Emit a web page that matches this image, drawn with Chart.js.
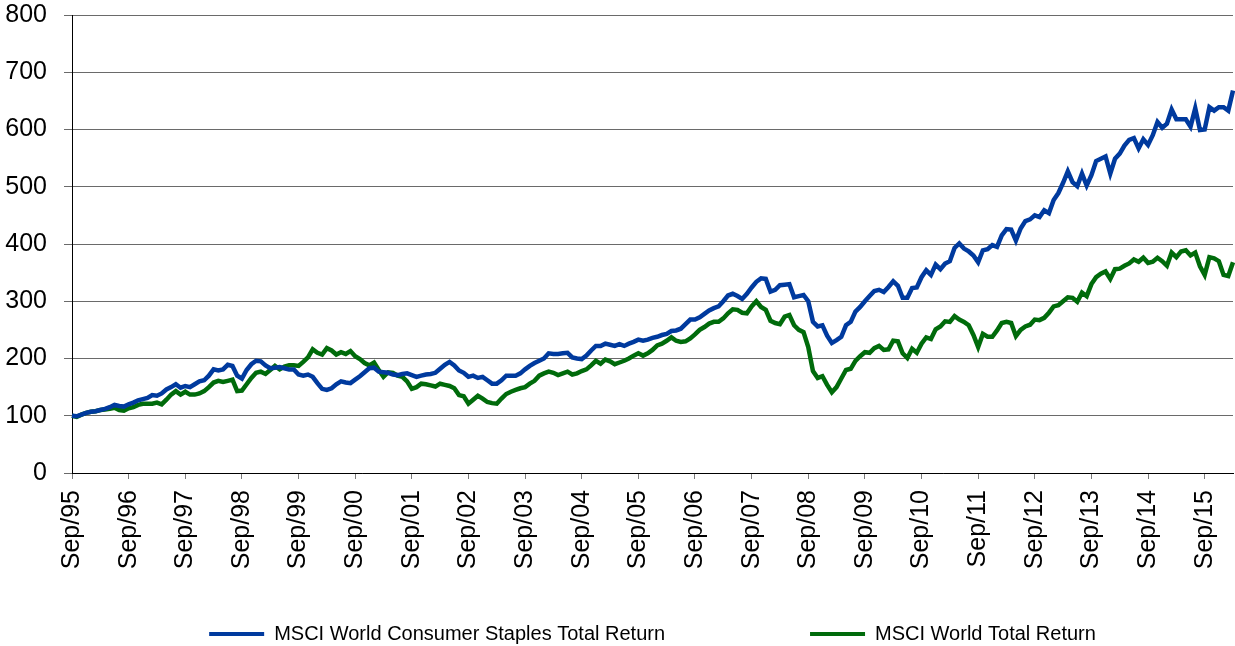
<!DOCTYPE html>
<html>
<head>
<meta charset="utf-8">
<script src="https://cdn.jsdelivr.net/npm/chart.js@4/dist/chart.umd.min.js"></script>
<style>
  html, body { margin: 0; padding: 0; background: #fff; }
  #wrap { width: 1235px; height: 646px; }
</style>
</head>
<body>
<div id="wrap"><canvas id="linechart"></canvas></div>
<script>
// monthly index levels, Sep/95 = 100, through Mar/16
const staples = [
  100, 99, 102, 105, 107, 108, 110, 112, 115, 119, 117, 116,
  120, 123, 127, 129, 131, 136, 135, 139, 146, 150, 155, 149,
  152, 150, 155, 160, 162, 170, 181, 179, 181, 189, 187, 170,
  165, 180, 190, 196, 195, 188, 183, 184, 185, 183, 181, 181,
  172, 170, 172, 168, 157, 147, 145, 148, 155, 160, 158, 157,
  163, 169, 176, 183, 184, 177, 176, 175, 172, 171, 173, 174,
  171, 168, 170, 172, 173, 175, 182, 189, 194, 188, 179, 175,
  168, 170, 166, 168, 162, 156, 156, 162, 170, 170, 170, 174,
  181, 187, 192, 196, 200, 209, 208, 208, 209, 210, 202, 200,
  199, 205, 214, 222, 222, 226, 224, 222, 225, 222, 226, 229,
  233, 231, 233, 236, 238, 241, 243, 248, 249, 252, 260, 268,
  268, 272, 278, 284, 288, 291, 300, 310, 313, 309, 304, 313,
  324, 334, 340, 339, 317, 320, 328, 329, 330, 307, 309, 311,
  300, 264, 256, 258, 240, 227, 232, 238, 258, 264, 282, 290,
  300, 309, 318, 320, 316, 325, 335, 327, 306, 306, 323, 324,
  342, 354, 346, 364, 356, 366, 370, 393, 401, 392, 387, 380,
  368, 389, 391, 398, 395, 415, 426, 425, 406, 427, 440, 443,
  450, 447, 459, 454, 477, 489, 507, 527, 508, 501, 523, 502,
  520, 545, 549, 553, 523, 549, 558, 572, 582, 585, 567, 583,
  573, 590, 613, 603, 610, 635, 618, 618, 618, 605, 637, 599,
  600, 639, 633, 639, 639, 633, 668
];

const world = [
  100, 98, 102, 105, 107, 108, 110, 111, 112, 114, 110, 109,
  113, 115, 119, 121, 121, 121, 123, 120, 128, 137, 143, 137,
  142, 137, 137, 139, 143, 150, 158, 161, 159, 161, 163, 143,
  144, 155, 166, 175, 177, 173, 180, 187, 181, 186, 188, 188,
  187, 194, 202, 216, 210, 207, 218, 214, 207, 211, 208, 213,
  204, 199, 192, 188, 193, 180, 168, 176, 175, 170, 168, 160,
  147, 150, 156, 155, 153, 151, 156, 154, 152, 148, 136, 134,
  121, 128, 135, 130, 124, 122, 121, 130, 138, 142, 145, 148,
  150, 156, 161, 170, 174, 177, 175, 171, 174, 177, 172, 174,
  178, 181, 188, 196, 191, 198, 195, 190, 193, 196, 200, 205,
  209, 205, 209, 215, 223, 226, 231, 237, 231, 229, 230, 235,
  242, 250, 255, 261, 264, 264, 270, 279, 286, 285, 280, 279,
  291, 300, 290, 285, 266, 262, 260, 273, 276, 258, 250, 246,
  220, 178, 166, 169, 154, 141, 150, 165, 180, 182, 196, 204,
  211, 210, 218, 222, 215, 216, 231, 230, 209, 201, 217, 210,
  226, 237, 234, 251, 256, 265, 264, 274, 268, 264, 258, 241,
  220, 243, 238, 238, 249, 262, 264, 262, 239, 250, 256, 259,
  268, 267, 271, 280, 291, 293, 300, 307, 306, 299, 315, 309,
  330, 342, 348, 352, 339, 356, 357, 362, 366, 373, 369, 376,
  367, 369, 376, 370, 362, 385, 377, 387, 389, 380, 385, 361,
  346, 377, 375, 370, 346, 344, 368
];

const seriesNames = ["MSCI World Consumer Staples Total Return", "MSCI World Total Return"];
const monthAbbr = ["Jan", "Feb", "Mar", "Apr", "May", "Jun", "Jul", "Aug", "Sep", "Oct", "Nov", "Dec"];

// month labels: Sep/95 .. Mar/16
const months = [];
for (let i = 0; i < staples.length; i++) {
  const m = (8 + i) % 12;
  const y = 1995 + Math.floor((8 + i) / 12);
  months.push(monthAbbr[m] + "/" + String(y % 100).padStart(2, "0"));
}

const arial = "'Liberation Sans', Arial, Helvetica, sans-serif";

const ctx = document.getElementById("linechart").getContext("2d");
new Chart(ctx, {
  type: "line",
  data: {
    labels: months,
    datasets: [
      {
        label: seriesNames[0],
        data: staples,
        borderColor: "#003A9E",
        backgroundColor: "#003A9E",
        borderWidth: 4.5,
        pointRadius: 0,
        tension: 0,
      },
      {
        label: seriesNames[1],
        data: world,
        borderColor: "#006B0B",
        backgroundColor: "#006B0B",
        borderWidth: 4.5,
        pointRadius: 0,
        tension: 0,
      },
    ],
  },
  options: {
    responsive: true,
    maintainAspectRatio: false,
    animation: false,
    layout: { padding: { left: 5, right: 0, top: 0, bottom: 0 } },
    plugins: {
      tooltip: { enabled: false },
      legend: {
        position: "bottom",
        fullSize: false,
        maxHeight: 62,
        labels: {
          boxWidth: 55,
          boxHeight: 4,
          padding: 40,
          color: "#000",
          font: { family: arial, size: 20 },
          // blank spacer item widens the gap between the two entries
          generateLabels: (chart) => {
            const items = Chart.defaults.plugins.legend.labels
              .generateLabels(chart)
              .map((l) => ({ ...l, lineWidth: 0 }));
            const spacer = {
              text: "",
              fillStyle: "rgba(0,0,0,0)",
              strokeStyle: "rgba(0,0,0,0)",
              lineWidth: 0,
              hidden: false,
            };
            return [items[0], spacer, items[1]];
          },
        },
      },
    },
    scales: {
      x: {
        type: "category",
        offset: false,
        border: { color: "#000", width: 1 },
        grid: {
          drawOnChartArea: false,
          drawTicks: true,
          tickLength: 6,
          tickColor: "#7a7a7a",
        },
        ticks: {
          autoSkip: false,
          minRotation: 90,
          maxRotation: 90,
          color: "#000",
          padding: 11,
          font: { family: arial, size: 25 },
          callback: function (val, i) {
            return i % 12 === 0 ? months[i] : null;
          },
        },
        afterFit: (scale) => {
          scale.height = 111;
          scale.paddingLeft = 0;
          scale.paddingRight = 2;
        },
      },
      y: {
        min: 0,
        max: 800,
        border: { color: "#000", width: 1 },
        grid: { color: "#6a6a6a", tickLength: 8, lineWidth: 1 },
        ticks: {
          stepSize: 100,
          color: "#000",
          padding: 17,
          font: { family: arial, size: 25 },
        },
        afterFit: (scale) => {
          scale.width = 67;
          scale.paddingTop = 15;
          scale.paddingBottom = 0;
        },
      },
    },
  },
});
</script>
</body>
</html>
